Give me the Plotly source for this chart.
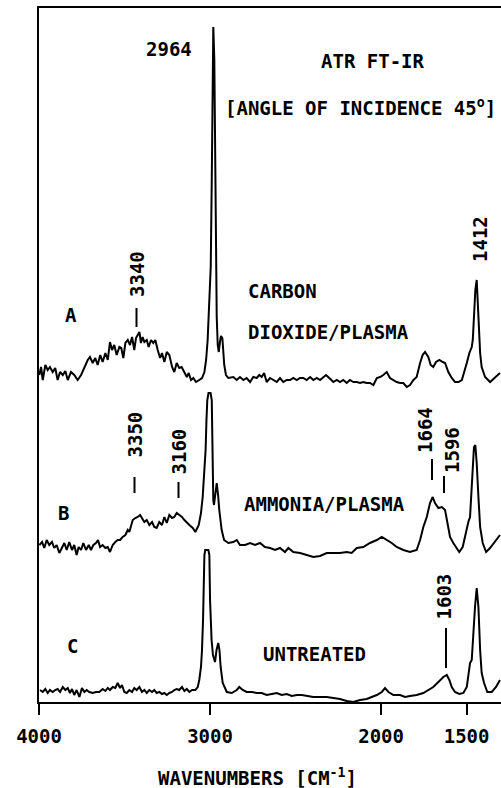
import plotly.graph_objects as go

# ---------------- data (wavenumber cm-1, relative absorbance a.u.) ----------------
A_wn = [3998, 3988, 3978, 3963, 3949, 3936, 3920, 3905, 3891, 3877,
        3861, 3846, 3832, 3813, 3794, 3774, 3754, 3735, 3715, 3702,
        3686, 3671, 3657, 3642, 3628, 3612, 3598, 3585, 3573, 3560,
        3546, 3530, 3519, 3507, 3495, 3481, 3468, 3456, 3443, 3433,
        3423, 3413, 3404, 3394, 3384, 3370, 3359, 3345, 3332, 3320,
        3306, 3292, 3281, 3267, 3253, 3238, 3222, 3209, 3195, 3180,
        3166, 3150, 3136, 3125, 3111, 3098, 3082, 3063, 3047,
        3033, 3023, 3014, 3003, 2996, 2990, 2986, 2981, 2975, 2971, 2967,
        2961, 2955, 2949, 2942, 2936, 2928, 2922, 2917, 2907, 2893,
        2864, 2844, 2825, 2805, 2786, 2766, 2747, 2727, 2712, 2698,
        2684, 2669, 2649, 2630, 2610, 2591, 2572, 2552, 2532, 2513,
        2493, 2474, 2455, 2435, 2415, 2396, 2376, 2357, 2338, 2322,
        2303, 2279, 2259, 2240, 2221, 2201, 2182, 2162, 2142, 2123,
        2104, 2084, 2065, 2045, 2025, 2006, 1987, 1967, 1948, 1928,
        1909, 1889, 1870, 1850, 1831, 1811, 1792, 1772, 1757, 1743,
        1724, 1710, 1695, 1679, 1659, 1640, 1626, 1607, 1587, 1568,
        1548, 1528, 1509, 1499, 1484, 1470, 1464, 1457, 1449, 1441,
        1431, 1421, 1412, 1392, 1363, 1334, 1305]
A_int = [10, 18, 5, 20, 15, 18, 13, 17, 5, 13,
         10, 14, 5, 13, 10, 5, 10, 18, 25, 28,
         22, 27, 20, 30, 23, 32, 25, 43, 35, 40,
         30, 38, 37, 27, 42, 45, 40, 48, 35, 47,
         50, 53, 42, 48, 43, 45, 38, 45, 42, 45,
         35, 27, 32, 23, 33, 30, 18, 13, 22, 17,
         18, 13, 8, 12, 5, 7, 3, 5, 7,
         13, 25, 45, 85, 118, 205, 285, 358, 325, 235, 152,
         68, 40, 33, 43, 49, 47, 35, 20, 10, 7,
         8, 5, 8, 5, 7, 3, 8, 7, 10, 8,
         12, 3, 7, 5, 3, 7, 3, 5, 5, 7,
         5, 7, 7, 5, 8, 5, 7, 5, 8, 10,
         7, 3, 5, 3, 5, 2, 5, 3, 3, 2,
         3, 2, 2, 0, 7, 8, 10, 13, 7, 5,
         3, 2, 2, -2, 0, 5, 8, 22, 30, 33,
         28, 20, 18, 23, 25, 23, 22, 13, 7, 3,
         3, 5, 15, 22, 32, 38, 45, 65, 95, 105,
         65, 32, 18, 8, 3, 8, 12]

B_wn = [3998, 3982, 3969, 3955, 3940, 3924, 3911, 3897, 3881, 3866,
        3852, 3838, 3823, 3807, 3794, 3780, 3768, 3754, 3741, 3725,
        3709, 3696, 3682, 3667, 3655, 3643, 3628, 3612, 3598, 3585,
        3569, 3554, 3540, 3526, 3511, 3495, 3481, 3472, 3462, 3452,
        3437, 3423, 3409, 3398, 3384, 3370, 3355, 3339, 3326, 3312,
        3297, 3281, 3267, 3253, 3238, 3222, 3209, 3195, 3180, 3164,
        3150, 3136, 3121, 3101, 3086, 3066, 3053, 3043, 3033, 3026,
        3021, 3016, 3009, 2997, 2990, 2988, 2984, 2981, 2977, 2968,
        2961, 2953, 2946, 2932, 2918, 2893, 2864, 2844, 2825, 2795,
        2766, 2737, 2708, 2679, 2649, 2620, 2591, 2562, 2542, 2513,
        2474, 2435, 2396, 2357, 2318, 2279, 2240, 2201, 2172, 2142,
        2104, 2065, 2025, 1996, 1967, 1938, 1909, 1870, 1831, 1792,
        1772, 1753, 1733, 1714, 1698, 1685, 1665, 1645, 1626, 1613,
        1597, 1578, 1558, 1543, 1523, 1509, 1499, 1490, 1480, 1470,
        1457, 1449, 1441, 1431, 1421, 1406, 1386, 1363, 1334, 1305]
B_int = [5, 8, 2, 10, 5, 8, 2, 5, -3, 3,
         7, 0, 8, 0, 5, -5, 3, 0, 7, 0,
         5, 0, 5, 7, 10, 3, 5, 2, 3, -2,
         5, 8, 10, 10, 13, 15, 20, 18, 23, 30,
         32, 33, 35, 32, 28, 30, 25, 28, 23, 22,
         28, 25, 33, 27, 35, 32, 33, 37, 35, 33,
         30, 27, 25, 22, 18, 25, 37, 53, 80, 100,
         130, 150, 157, 157, 150, 110, 70, 50, 45, 60,
         67, 55, 40, 20, 10, 7, 8, 10, 5, 5,
         7, 5, 7, 3, 2, 0, 2, -2, 2, -2,
         -3, -5, -7, -6, -3, -3, -3, -2, -3, 2,
         3, 7, 10, 13, 10, 7, 3, 0, -2, 0,
         10, 23, 33, 47, 53, 47, 42, 43, 40, 27,
         13, 7, 2, -2, 3, 13, 23, 28, 33, 70,
         103, 105, 87, 53, 23, 7, -2, 2, 8, 15]

C_wn = [3994, 3978, 3963, 3949, 3936, 3920, 3905, 3891, 3877, 3861,
        3846, 3832, 3819, 3807, 3794, 3780, 3764, 3749, 3735, 3721,
        3706, 3686, 3667, 3647, 3628, 3612, 3598, 3585, 3569, 3554,
        3540, 3526, 3515, 3501, 3487, 3472, 3456, 3443, 3429, 3413,
        3398, 3384, 3370, 3355, 3339, 3326, 3312, 3297, 3281, 3267,
        3253, 3238, 3222, 3209, 3195, 3180, 3164, 3150, 3136, 3121,
        3105, 3086, 3072, 3063, 3053, 3047, 3041, 3037, 3033, 3028,
        3010, 3004, 3000, 2991, 2983, 2971, 2962, 2952, 2945, 2938,
        2926, 2902, 2873, 2844, 2829, 2809, 2786, 2756, 2727, 2698,
        2669, 2639, 2610, 2581, 2552, 2522, 2493, 2464, 2435, 2396,
        2357, 2318, 2279, 2240, 2201, 2162, 2123, 2084, 2055, 2025,
        1996, 1977, 1957, 1928, 1889, 1860, 1831, 1792, 1753, 1724,
        1695, 1665, 1636, 1616, 1601, 1587, 1568, 1543, 1519, 1499,
        1490, 1480, 1470, 1461, 1451, 1441, 1431, 1421, 1412, 1398,
        1379, 1353, 1328, 1305]
C_int = [5, 3, 6, 2, 5, 3, 5, 6, 3, 8,
         5, 7, 2, 6, 0, 5, -2, 7, 3, 5,
         3, 2, 3, 3, 6, 4, 7, 5, 8, 7,
         12, 7, 10, 3, 2, 5, 3, 7, 5, 8,
         3, 5, 2, 5, 3, 5, 2, 3, 1, 2,
         0, 2, 3, 5, 6, 5, 8, 4, 6, 3,
         5, 5, 8, 15, 28, 45, 75, 125, 140, 145,
         145, 140, 95, 55, 40, 33, 45, 52, 45, 28,
         12, 3, 2, 5, 8, 5, 3, 3, 2, 2,
         0, 1, 2, 0, 1, -1, 0, 0, -1, -2,
         -2, -2, -3, -4, -6, -7, -5, -4, -2, 0,
         3, 7, 3, 0, 0, -2, -1, 0, 2, 5,
         8, 13, 18, 20, 15, 8, 3, 1, 2, 8,
         22, 32, 35, 62, 88, 107, 88, 45, 22, 12,
         3, 3, 8, 15]

# vertical stacking offsets of the three spectra (a.u.)
OFFSET_A, OFFSET_B, OFFSET_C = 317, 152, 7

TICK_VALS = [4000, 3000, 2000, 1500]
TICK_TEXT = ["4000", "3000", "2000", "1500"]

# ---------------- figure ----------------
W, H = 501, 788
PL, PT, PW, PH = 39, 8, 462, 694
FONT = "DejaVu Sans Mono"
FS = 19


def P(px, py):
    return (px - PL) / PW, (PT + PH - py) / PH


fig = go.Figure()
for wn, val, off in ((A_wn, A_int, OFFSET_A), (B_wn, B_int, OFFSET_B), (C_wn, C_int, OFFSET_C)):
    fig.add_trace(go.Scatter(x=wn, y=[off + v for v in val], mode="lines",
                             line=dict(color="black", width=2), showlegend=False,
                             hoverinfo="skip"))

annotations = []


def text(s, px, py, angle=0, anchor="center"):
    x, y = P(px, py)
    annotations.append(dict(text=s, x=x, y=y, xref="paper", yref="paper",
                            showarrow=False, textangle=angle, xanchor=anchor,
                            yanchor="middle",
                            font=dict(family=FONT, size=FS, color="black", weight="bold")))


text("2964", 169, 49)
text("ATR FT-IR", 373, 61)
text("[ANGLE OF INCIDENCE 45<sup>o</sup>]", 360, 107)
text("1412", 480, 239, angle=-90)
text("3340", 137, 274, angle=-90)
text("3350", 134.5, 435, angle=-90)
text("3160", 178.5, 452, angle=-90)
text("1664", 425, 430, angle=-90)
text("1596", 452, 450, angle=-90)
text("1603", 443.5, 597, angle=-90)
text("A", 71, 315)
text("B", 63.5, 513)
text("C", 72.5, 646)
text("CARBON", 246, 291, anchor="left")
text("DIOXIDE/PLASMA", 246, 332, anchor="left")
text("AMMONIA/PLASMA", 242, 504, anchor="left")
text("UNTREATED", 261, 654, anchor="left")
text("WAVENUMBERS [CM<sup>-1</sup>]", 257, 777)

shapes = []
for (px, y0, y1) in [(136.5, 308, 327), (134.5, 477, 493), (178.5, 482, 498),
                     (432, 459, 480), (444, 476, 493), (446, 628, 668)]:
    x, ya = P(px, y0)
    _, yb = P(px, y1)
    shapes.append(dict(type="line", xref="paper", yref="paper", x0=x, x1=x, y0=ya, y1=yb,
                       line=dict(color="black", width=2)))

fig.update_layout(
    width=W, height=H,
    margin=dict(l=PL, r=W - PL - PW, t=PT, b=H - PT - PH, autoexpand=False),
    paper_bgcolor="white", plot_bgcolor="white",
    annotations=annotations, shapes=shapes,
    font=dict(family=FONT, size=FS, color="black", weight="bold"),
)
fig.update_xaxes(range=[4000, 1299], tickvals=TICK_VALS, ticktext=TICK_TEXT,
                 ticks="outside", ticklen=11, tickwidth=2, tickcolor="black",
                 showline=True, linewidth=2, linecolor="black", mirror=True,
                 showgrid=False, zeroline=False, ticklabelstandoff=5,
                 tickfont=dict(family=FONT, size=FS, color="black", weight="bold"))
fig.update_yaxes(range=[0, 694], showline=True, linewidth=2, linecolor="black",
                 showticklabels=False, ticks="", showgrid=False, zeroline=False)

fig.write_html("out.html")
